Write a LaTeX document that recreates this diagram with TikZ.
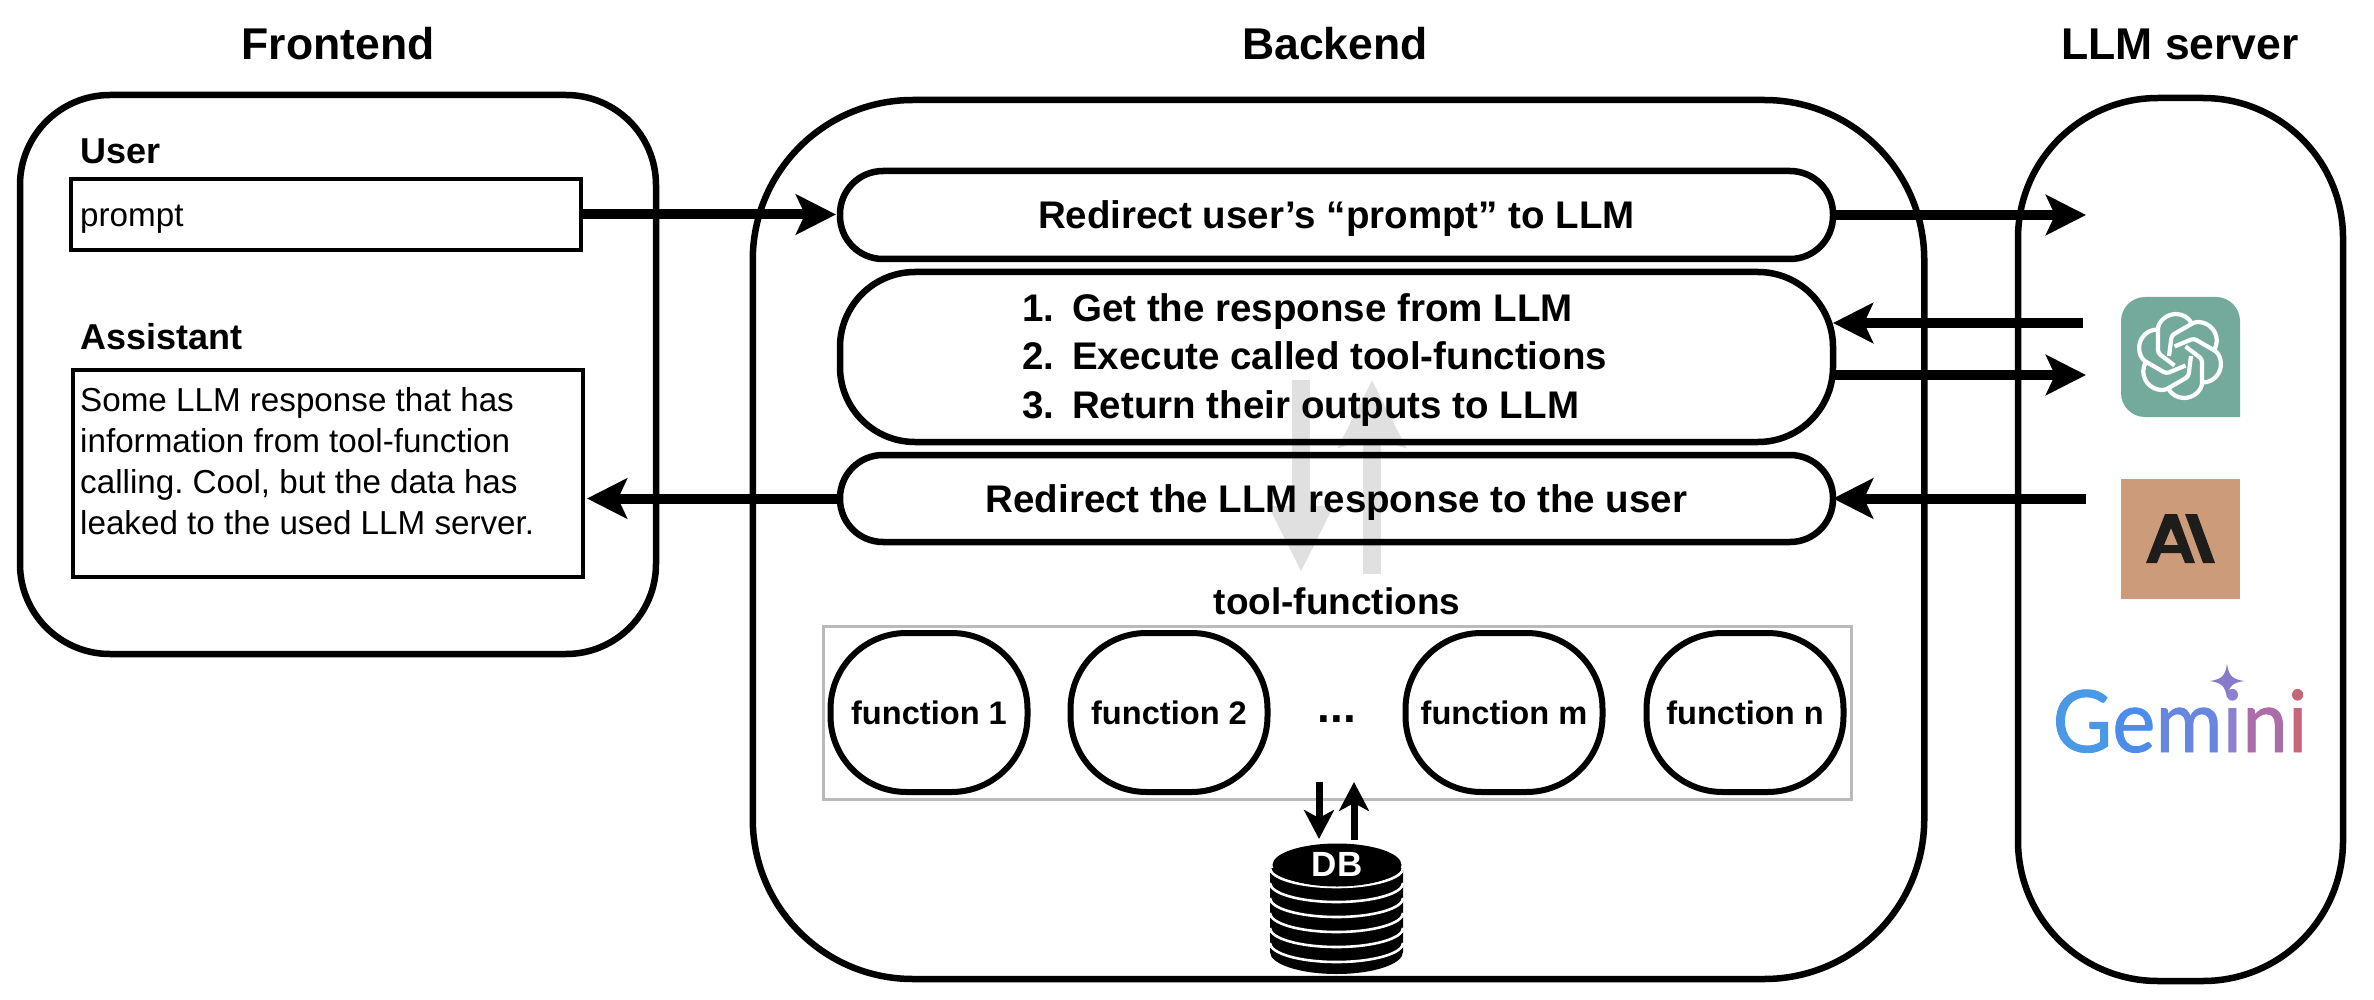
\documentclass[tikz,border=0pt]{standalone}
\usepackage{fontspec}
\setmainfont{Liberation Sans}
\newfontfamily\geminifont[FakeBold=1]{Lato}
\usetikzlibrary{arrows.meta}

\newcommand{\fsize}[1]{\fontsize{#1}{#1}\selectfont}
\newcommand{\gemletter}[2]{\textcolor[RGB]{#1}{#2}}

\begin{document}
\frenchspacing
\begin{tikzpicture}[x=1pt, y=-1pt,
    % Colors
    cgpt/.style={fill={rgb,255:red,116;green,170;blue,156}},
    cclaude/.style={fill={rgb,255:red,204;green,155;blue,122}},
    cinkdark/.style={fill={rgb,255:red,29;green,29;blue,27}},
    cstar/.style={fill={rgb,255:red,136;green,122;blue,202}},
    % Styles
    heading/.style={font=\bfseries\fsize{44.5}},
    tier/.style={draw, line width=6.5pt, outer sep=0pt},
    stage/.style={draw, line width=6.5pt, outer sep=0pt, minimum width=993pt,
                  text height=27pt, text depth=0pt, font=\bfseries\fsize{38.5}},
    func/.style={draw, line width=6pt, outer sep=0pt, rounded corners=76pt, minimum width=197pt,
                 minimum height=159pt, font=\bfseries\fsize{32.6}},
    chat/.style={font=\bfseries\fsize{36}, anchor=west, inner sep=0pt},
    textbox/.style={draw, line width=3.4pt, outer sep=0pt},
    reply/.style={font=\fontsize{33.2}{41}\selectfont, align=left, anchor=west, inner sep=0pt},
    arrow/.style={-{Stealth[length=40pt, width=40pt, inset=9pt]}, line width=10pt},
    dbarrow/.style={-{Stealth[length=29pt, width=30pt, inset=8pt]}, line width=7pt},
    gear/.style={line width=18pt, color=black!12},
    sep/.style={white, line width=2.6pt},
    knot/.style={white, line width=4.2pt, line join=round, rounded corners=3pt},
  ]
  \useasboundingbox (0,0) rectangle (2374,1000);

  % Grey arrows go under everything
  \coordinate (downtop) at (1301,380);
  \coordinate (downend) at (1301,573);
  \coordinate (uptop) at (1372,380);
  \coordinate (upend) at (1372,574);
  \draw[gear, -{Triangle[length=67pt, width=60pt]}] (downtop) -- (downend);
  \draw[gear, -{Stealth[length=67pt, width=66pt, inset=10pt]}] (upend) -- (uptop);

  % Headings
  \node[heading] (fronttitle) at (338,44) {Frontend};
  \node[heading] (backtitle) at (1335,44) {Backend};
  \node[heading] (llmtitle) at (2180,44) {LLM server};

  % Frontend
  \node[tier, rounded corners=90pt, minimum width=636pt, minimum height=559pt] (frontend) at (338,374.5) {};
  \node[chat] (usertitle) at (80,151) {User};
  \node[textbox, minimum width=510pt, minimum height=71pt] (prompt) at (326,214.5) {};
  \node[reply] (prompttext) at (80,219) {prompt};
  \node[chat] (assisttitle) at (80,337) {Assistant};
  \node[textbox, minimum width=510pt, minimum height=207pt] (answer) at (328,473.5) {};
  \node[reply] (answertext) at (80,461) {
    Some LLM response that has\\
    information from tool-function\\
    calling. Cool, but the data has\\
    leaked to the used LLM server.
  };

  % Backend
  \node[tier, rounded corners=160pt, minimum width=1171.5pt, minimum height=879pt] (backend) at (1338.5,539.5) {};
  \node[stage, rounded corners=43pt, minimum height=88pt] (redirect) at (1336.5,215) {Redirect user's “prompt” to LLM};
  \node[stage, rounded corners=75pt, minimum height=170pt, text height=0pt] (execute) at (1336.5,357) {};
  \node[font=\bfseries\fontsize{38.5}{48.5}\selectfont, align=left, anchor=west, inner sep=0pt] (steps) at (1022,360) {
    \makebox[50pt][l]{1.}Get the response from LLM\\
    \makebox[50pt][l]{2.}Execute called tool-functions\\
    \makebox[50pt][l]{3.}Return their outputs to LLM
  };
  \node[stage, rounded corners=43pt, minimum height=87pt] (back) at (1336.5,498.5) {Redirect the LLM response to the user};

  % Tool-functions
  \node[font=\bfseries\fsize{37}] (tooltitle) at (1337,601) {tool-functions};
  \node[draw, line width=3pt, color=black!27, outer sep=0pt, minimum width=1027.5pt, minimum height=173pt] (toolbox) at (1337.25,712.5) {};
  \node[func] (fone) at (929,712.5) {function 1};
  \node[func] (ftwo) at (1169,712.5) {function 2};
  \node[font=\bfseries\fsize{46}] (fdots) at (1337,719) {...};
  \node[func] (fm) at (1504,712.5) {function m};
  \node[func] (fn) at (1745,712.5) {function n};

  % DB
  \fill (1270,868) -- (1403,868) -- (1403,952)
    arc[start angle=0, end angle=-180, x radius=66.5pt, y radius=22pt] -- cycle;
  \foreach \i in {0,...,5} {
    \draw[sep] (1403,868+\i*15) arc[start angle=0, end angle=-180, x radius=66.5pt, y radius=19pt];
  }
  \fill (1337,865) ellipse[x radius=64.5pt, y radius=21.5pt];
  \node[font=\bfseries\fsize{35}, text=white, inner sep=0pt] (db) at (1337,864) {DB};
  \coordinate (dbin) at (1319,839);
  \coordinate (dbout) at (1354,840);
  \coordinate (toolin) at (1319,782);
  \coordinate (toolout) at (1354,782);
  \draw[dbarrow] (toolin) -- (dbin);
  \draw[dbarrow] (dbout) -- (toolout);

  % LLM server
  \node[tier, rounded corners=140pt, minimum width=325pt, minimum height=883pt] (llm) at (2180.5,539.5) {};

  % Logos
  \fill[cgpt, rounded corners=24pt] (2240,417) -- (2121,417) -- (2121,297) -- (2240,297) [sharp corners] -- cycle;
  \begin{scope}[shift={(2180,356)}]
    \foreach \a in {0,60,...,300} {
      \draw[knot, rotate=\a] (-5.5,9.5) -- (-22,-3) -- (-22,-24) [sharp corners] arc[start angle=180, end angle=28, radius=18pt];
    }
  \end{scope}
  \fill[cclaude] (2121,479) rectangle (2240,599);
  \fill[cinkdark, even odd rule] (2146,563) -- (2165,514) -- (2177,514) -- (2195,563) -- (2185,563) -- (2181,553)
    -- (2161,553) -- (2157,563) -- cycle (2164,545) -- (2178,545) -- (2171,528) -- cycle;
  \fill[cinkdark] (2185,514) -- (2197,514) -- (2215,563) -- (2203,563) -- cycle;
  \node[inner sep=0pt, xscale=0.95, font=\geminifont\fsize{86}] (gemini) at (2180,721) {%
    \gemletter{74,152,230}{G}\gemletter{76,141,235}{e}\gemletter{104,134,224}{m}%
    \gemletter{140,128,208}{i}\gemletter{172,108,170}{n}\gemletter{198,102,122}{i}};
  \fill[cstar] (2227,664) .. controls (2229,676) and (2232,679) .. (2244,681)
    .. controls (2232,683) and (2229,686) .. (2227,698)
    .. controls (2225,686) and (2222,683) .. (2210,681)
    .. controls (2222,679) and (2225,676) .. (2227,664) -- cycle;

  % Arrows
  \coordinate (llmin) at (2086,215);
  \coordinate (gptout) at (2083,323);
  \coordinate (gptin) at (2086,375);
  \coordinate (claudeout) at (2086,498.5);
  \draw[arrow, shorten <=2pt, shorten >=4pt] (prompt.east) -- (prompt.east -| redirect.west);
  \draw[arrow] (redirect.east) -- (llmin);
  \draw[arrow] (gptout) -- (execute.east |- gptout);
  \draw[arrow] (execute.east |- gptin) -- (gptin);
  \draw[arrow] (claudeout) -- (back.east);
  \draw[arrow, shorten >=4pt] (back.west) -- (answer.east |- back.west);

\end{tikzpicture}
\end{document}
